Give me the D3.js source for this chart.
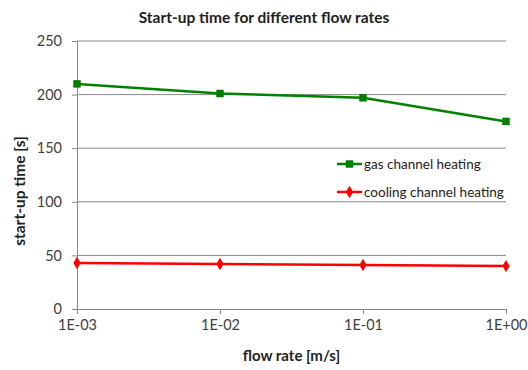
<!DOCTYPE html>
<html>
<head>
<meta charset="utf-8">
<script src="https://cdn.jsdelivr.net/npm/d3@7/dist/d3.min.js"></script>
<style>
  body { margin: 0; background: #fff; }
  text { font-family: Lato, "Open Sans", sans-serif; }
</style>
</head>
<body>
<div id="chart-area"></div>
<script>
// data
var flowRates = [1e-3, 1e-2, 1e-1, 1];
var gasHeating = [210, 201, 197, 175];
var coolingHeating = [43, 42, 41, 40];
var yTicks = [0, 50, 100, 150, 200, 250];
var xTickLabels = ['1E-03', '1E-02', '1E-01', '1E+00'];

var margin = { left: 77, right: 22, top: 41, bottom: 61 };
var width = 528 - margin.left - margin.right;
var height = 370 - margin.top - margin.bottom;

var svg = d3.select('#chart-area').append('svg')
    .attr('width', 528)
    .attr('height', 370);

var g = svg.append('g')
    .attr('transform', 'translate(' + margin.left + ',' + margin.top + ')');

var x = d3.scaleLog()
    .domain([1e-3, 1])
    .range([0, width]);

var y = d3.scaleLinear()
    .domain([0, 250])
    .range([height, 0]);

// grid lines
g.selectAll('.grid')
    .data(yTicks.slice(1))
    .enter().append('line')
    .attr('class', 'grid')
    .attr('x1', 0)
    .attr('x2', width)
    .attr('y1', d => y(d))
    .attr('y2', d => y(d))
    .attr('stroke', '#888')
    .attr('stroke-width', 1);

// Y axis
var yAxisCall = d3.axisLeft(y)
    .tickValues(yTicks)
    .tickSize(5)
    .tickPadding(10);
var yAxisGroup = g.append('g').call(yAxisCall);

// X axis
var xAxisCall = d3.axisBottom(x)
    .tickValues(flowRates)
    .tickFormat((d, i) => xTickLabels[i])
    .tickSize(5)
    .tickPadding(6);
var xAxisGroup = g.append('g')
    .attr('transform', 'translate(0,' + height + ')')
    .call(xAxisCall);

[yAxisGroup, xAxisGroup].forEach(ax => {
    ax.select('.domain').attr('stroke', '#888');
    ax.selectAll('.tick line').attr('stroke', '#888');
    ax.selectAll('.tick text')
        .attr('fill', '#404040')
        .style('font-size', '14.5px');
});

// Title
svg.append('text')
    .attr('x', 264)
    .attr('y', 23)
    .attr('text-anchor', 'middle')
    .attr('style', 'font-size: 15.5px; font-weight: bold')
    .attr('fill', '#222')
    .text('Start-up time for different flow rates');

// X Label
g.append('text')
    .attr('x', width / 2)
    .attr('y', height + 52)
    .attr('text-anchor', 'middle')
    .attr('style', 'font-size: 15px; font-weight: bold')
    .attr('fill', '#222')
    .text('flow rate [m/s]');

// Y Label
g.append('text')
    .attr('transform', 'rotate(-90)')
    .attr('x', -(191 - margin.top))
    .attr('y', -52)
    .attr('text-anchor', 'middle')
    .attr('style', 'font-size: 15.5px; font-weight: bold')
    .attr('fill', '#222')
    .text('start-up time [s]');

var series = [
    { name: 'gas channel heating', values: gasHeating, color: '#008000', symbol: d3.symbolSquare, size: 56 },
    { name: 'cooling channel heating', values: coolingHeating, color: '#ff0000', symbol: d3.symbolDiamond, size: 45 }
];

var line = d3.line()
    .x(d => x(d.x))
    .y(d => y(d.y));

series.forEach(s => {
    var pts = flowRates.map((f, i) => ({ x: f, y: s.values[i] }));
    g.append('path')
        .datum(pts)
        .attr('fill', 'none')
        .attr('stroke', s.color)
        .attr('stroke-width', 2.5)
        .attr('d', line);
    g.selectAll(null)
        .data(pts)
        .enter().append('path')
        .attr('transform', d => 'translate(' + x(d.x) + ',' + y(d.y) + ')')
        .attr('d', d3.symbol().type(s.symbol).size(s.size))
        .attr('fill', s.color);
});

// Legend
var legend = svg.append('g')
    .attr('transform', 'translate(337,164)');
series.forEach((s, i) => {
    var row = legend.append('g').attr('transform', 'translate(0,' + (i * 28) + ')');
    row.append('line')
        .attr('x1', 0).attr('x2', 25)
        .attr('stroke', s.color)
        .attr('stroke-width', 2.5);
    row.append('path')
        .attr('transform', 'translate(12.5,0)')
        .attr('d', d3.symbol().type(s.symbol).size(s.size))
        .attr('fill', s.color);
    row.append('text')
        .attr('x', 27)
        .attr('y', 5)
        .attr('style', 'font-size: 13.5px')
        .attr('fill', '#222')
        .text(s.name);
});
</script>
</body>
</html>
